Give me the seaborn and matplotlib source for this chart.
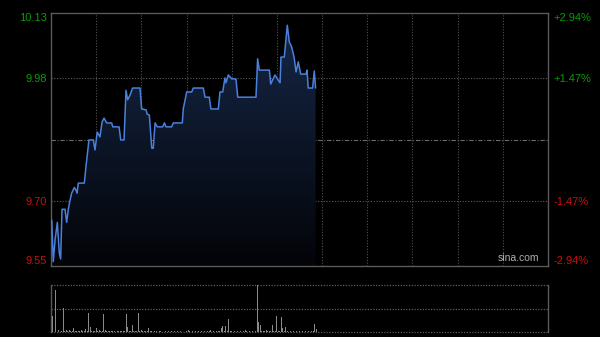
import numpy as np
import pandas as pd
import matplotlib
matplotlib.use("Agg")
import matplotlib.pyplot as plt
import seaborn as sns
from matplotlib.patches import Polygon

# ---------------- data ----------------
minutes = [0.5, 1.5, 2.7, 4.2, 5.5, 6.4, 7.3, 9.3, 10.4, 11.5, 12.6, 13.7, 15.5, 16.6, 17.3,
           18.1, 22.1, 23.2, 25.2, 28.1, 29.2, 30.7, 32.5, 33.9, 35.2, 37.0, 40.3, 41.0, 45.2,
           46.3, 48.5, 49.8, 50.9, 52.5, 54.2, 59.1, 60.2, 63.1, 63.9, 65.3, 66.9, 67.9, 69.1,
           70.6, 74.2, 75.3, 76.4, 80.1, 81.2, 87.2, 87.8, 90.1, 93.4, 94.5, 101.1, 102.3, 105.1,
           106.2, 111.1, 112.2, 114.0, 115.5, 116.2, 117.7, 120.0, 122.8, 124.0, 136.1, 137.2,
           138.3, 145.0, 145.9, 148.7, 150.9, 152.1, 152.7, 154.9, 156.9, 158.2, 159.8, 161.4,
           162.7, 164.2, 165.8, 169.3, 170.0, 170.8, 173.7, 174.8, 175.7]
prices = [9.655, 9.560, 9.610, 9.650, 9.580, 9.566, 9.680, 9.680, 9.650, 9.680, 9.700, 9.717,
          9.730, 9.724, 9.717, 9.740, 9.740, 9.777, 9.839, 9.839, 9.816, 9.857, 9.846, 9.880,
          9.889, 9.878, 9.878, 9.869, 9.869, 9.839, 9.839, 9.953, 9.931, 9.942, 9.958, 9.958,
          9.910, 9.908, 9.898, 9.896, 9.820, 9.820, 9.878, 9.869, 9.869, 9.878, 9.869, 9.869,
          9.878, 9.878, 9.910, 9.949, 9.949, 9.958, 9.958, 9.937, 9.937, 9.910, 9.910, 9.949,
          9.949, 9.981, 9.970, 9.988, 9.979, 9.979, 9.937, 9.937, 10.025, 9.999, 9.999, 9.967,
          9.988, 9.976, 9.970, 10.029, 10.029, 10.102, 10.064, 10.052, 10.029, 9.995, 10.018,
          9.990, 9.990, 9.999, 9.958, 9.958, 9.997, 9.958]

volume = [34, 34, 34, 89, 12, 5, 19, 3, 51, 2, 4, 2, 4, 2, 3, 9, 2, 3, 2, 2, 5, 2, 3, 6, 2,
          41, 10, 3, 2, 2, 8, 3, 5, 2, 3, 38, 5, 2, 2, 3, 2, 3, 2, 1, 2, 2, 3, 2, 2, 2, 38, 10,
          3, 2, 15, 2, 3, 2, 41, 3, 5, 2, 2, 3, 2, 9, 2, 2, 1, 2, 2, 1, 2, 2, 1, 3, 2, 1, 2, 2,
          2, 19, 2, 1, 2, 1, 2, 2, 1, 2, 2, 5, 2, 1, 2, 1, 2, 1, 2, 1, 2, 1, 2, 1, 2, 2, 5, 1,
          2, 1, 2, 2, 3, 9, 13, 2, 13, 3, 28, 2, 2, 1, 2, 1, 2, 1, 2, 1, 2, 4, 2, 1, 2, 1, 2, 1,
          2, 100, 22, 15, 2, 2, 3, 5, 2, 2, 3, 15, 2, 3, 34, 2, 3, 32, 9, 2, 11, 3, 19, 2, 4, 2,
          2, 3, 4, 2, 2, 3, 2, 2, 4, 2, 2, 3, 2, 17, 6]
vol_minutes = list(range(len(volume)))

prev_close = 9.84
price_ticks = [10.13, 9.98, 9.70, 9.55]
price_labels = ["10.13", "9.98", "9.70", "9.55"]
pct_labels = ["+2.94%", "+1.47%", "-1.47%", "-2.94%"]
label_colors = ["#0a9a0a", "#0a9a0a", "#c81010", "#c81010"]
session_len = 330

# ---------------- figure ----------------
sns.set_theme(style="dark")
plt.rcParams["font.family"] = ["Liberation Sans", "DejaVu Sans"]

fig = plt.figure(figsize=(6.0, 3.37), dpi=100, facecolor="black")
W, H = 600, 337
ax = fig.add_axes([51 / W, 1 - 266 / H, (548 - 51) / W, (266 - 13) / H])
axv = fig.add_axes([51 / W, 1 - 332 / H, (548 - 51) / W, (332 - 285) / H])

grid_c = "#505050"
frame_c = "#5a5a5a"

for a in (ax, axv):
    a.set_facecolor("black")
    a.set_xlim(0, session_len)
    a.tick_params(length=0)
    a.grid(False)

ylo, yhi = 9.55, 10.13
ax.set_ylim(ylo, yhi)

# vertical grid
for xg in range(30, session_len, 30):
    ax.axvline(xg, color=grid_c, lw=0.8, ls=(0, (1, 1.5)), zorder=1)
# horizontal grid
for yg in (9.98, 9.70):
    ax.axhline(yg, color="#5c5c5c", lw=0.8, ls=(0, (1, 1.5)), zorder=1)
ax.axhline(prev_close, color="#6a6a6a", lw=0.8, ls=(0, (4, 1.5, 1, 1.5)), zorder=1)

# gradient fill under line
df = pd.DataFrame({"minute": minutes, "price": prices})
verts = [(minutes[0], ylo)] + list(zip(minutes, prices)) + [(minutes[-1], ylo)]
poly = Polygon(verts, closed=True, facecolor="none", edgecolor="none")
ax.add_patch(poly)
grad = np.linspace(1, 0, 256).reshape(-1, 1)
top = np.array([0x16, 0x28, 0x48]) / 255
bot = np.array([0x03, 0x04, 0x08]) / 255
img = (bot[None, None, :] + grad[:, :, None] * (top - bot)[None, None, :])
im = ax.imshow(img, extent=[0, session_len, ylo, yhi], aspect="auto", zorder=2,
               origin="upper")
im.set_clip_path(poly)

sns.lineplot(data=df, x="minute", y="price", ax=ax, color="#4a80dc", lw=1.1,
             zorder=4, estimator=None)
ax.set_xlabel("")
ax.set_ylabel("")
ax.set_xticks([])

for s in ax.spines.values():
    s.set_color(frame_c)
    s.set_linewidth(1.0)
    s.set_visible(True)

# left labels
ax.set_yticks(price_ticks)
ax.set_yticklabels(price_labels, fontsize=8)
for t, c in zip(ax.get_yticklabels(), label_colors):
    t.set_color(c)
tl = ax.get_yticklabels()
tl[0].set_va("top")
tl[-1].set_va("bottom")
ax.tick_params(axis="y", pad=3)

# right labels
ax2 = ax.twinx()
ax2.set_ylim(ylo, yhi)
ax2.set_yticks(price_ticks)
ax2.set_yticklabels(pct_labels, fontsize=8)
ax2.tick_params(length=0, pad=4)
for t, c in zip(ax2.get_yticklabels(), label_colors):
    t.set_color(c)
tr = ax2.get_yticklabels()
tr[0].set_va("top")
tr[-1].set_va("bottom")
for s in ax2.spines.values():
    s.set_visible(False)
ax2.grid(False)

ax.text(0.983, 0.012, "sina.com", transform=ax.transAxes, ha="right", va="bottom",
        color="#b0b0b0", fontsize=7.5, zorder=6)

# volume panel
axv.set_ylim(0, 100)
axv.bar(vol_minutes, volume, width=0.6, color="#8a8a8a", zorder=3, linewidth=0)
for yg in (0, 50, 100):
    axv.axhline(yg, color="#5c5c5c", lw=0.9, ls=(0, (1, 1.2)), zorder=1, clip_on=False)
axv.set_xticks([])
axv.set_yticks([])
for k, s in axv.spines.items():
    if k in ("left", "right"):
        s.set_color(frame_c)
        s.set_linewidth(1.0)
        s.set_visible(True)
    else:
        s.set_visible(False)

fig.savefig("out.png", dpi=100, facecolor="black")
